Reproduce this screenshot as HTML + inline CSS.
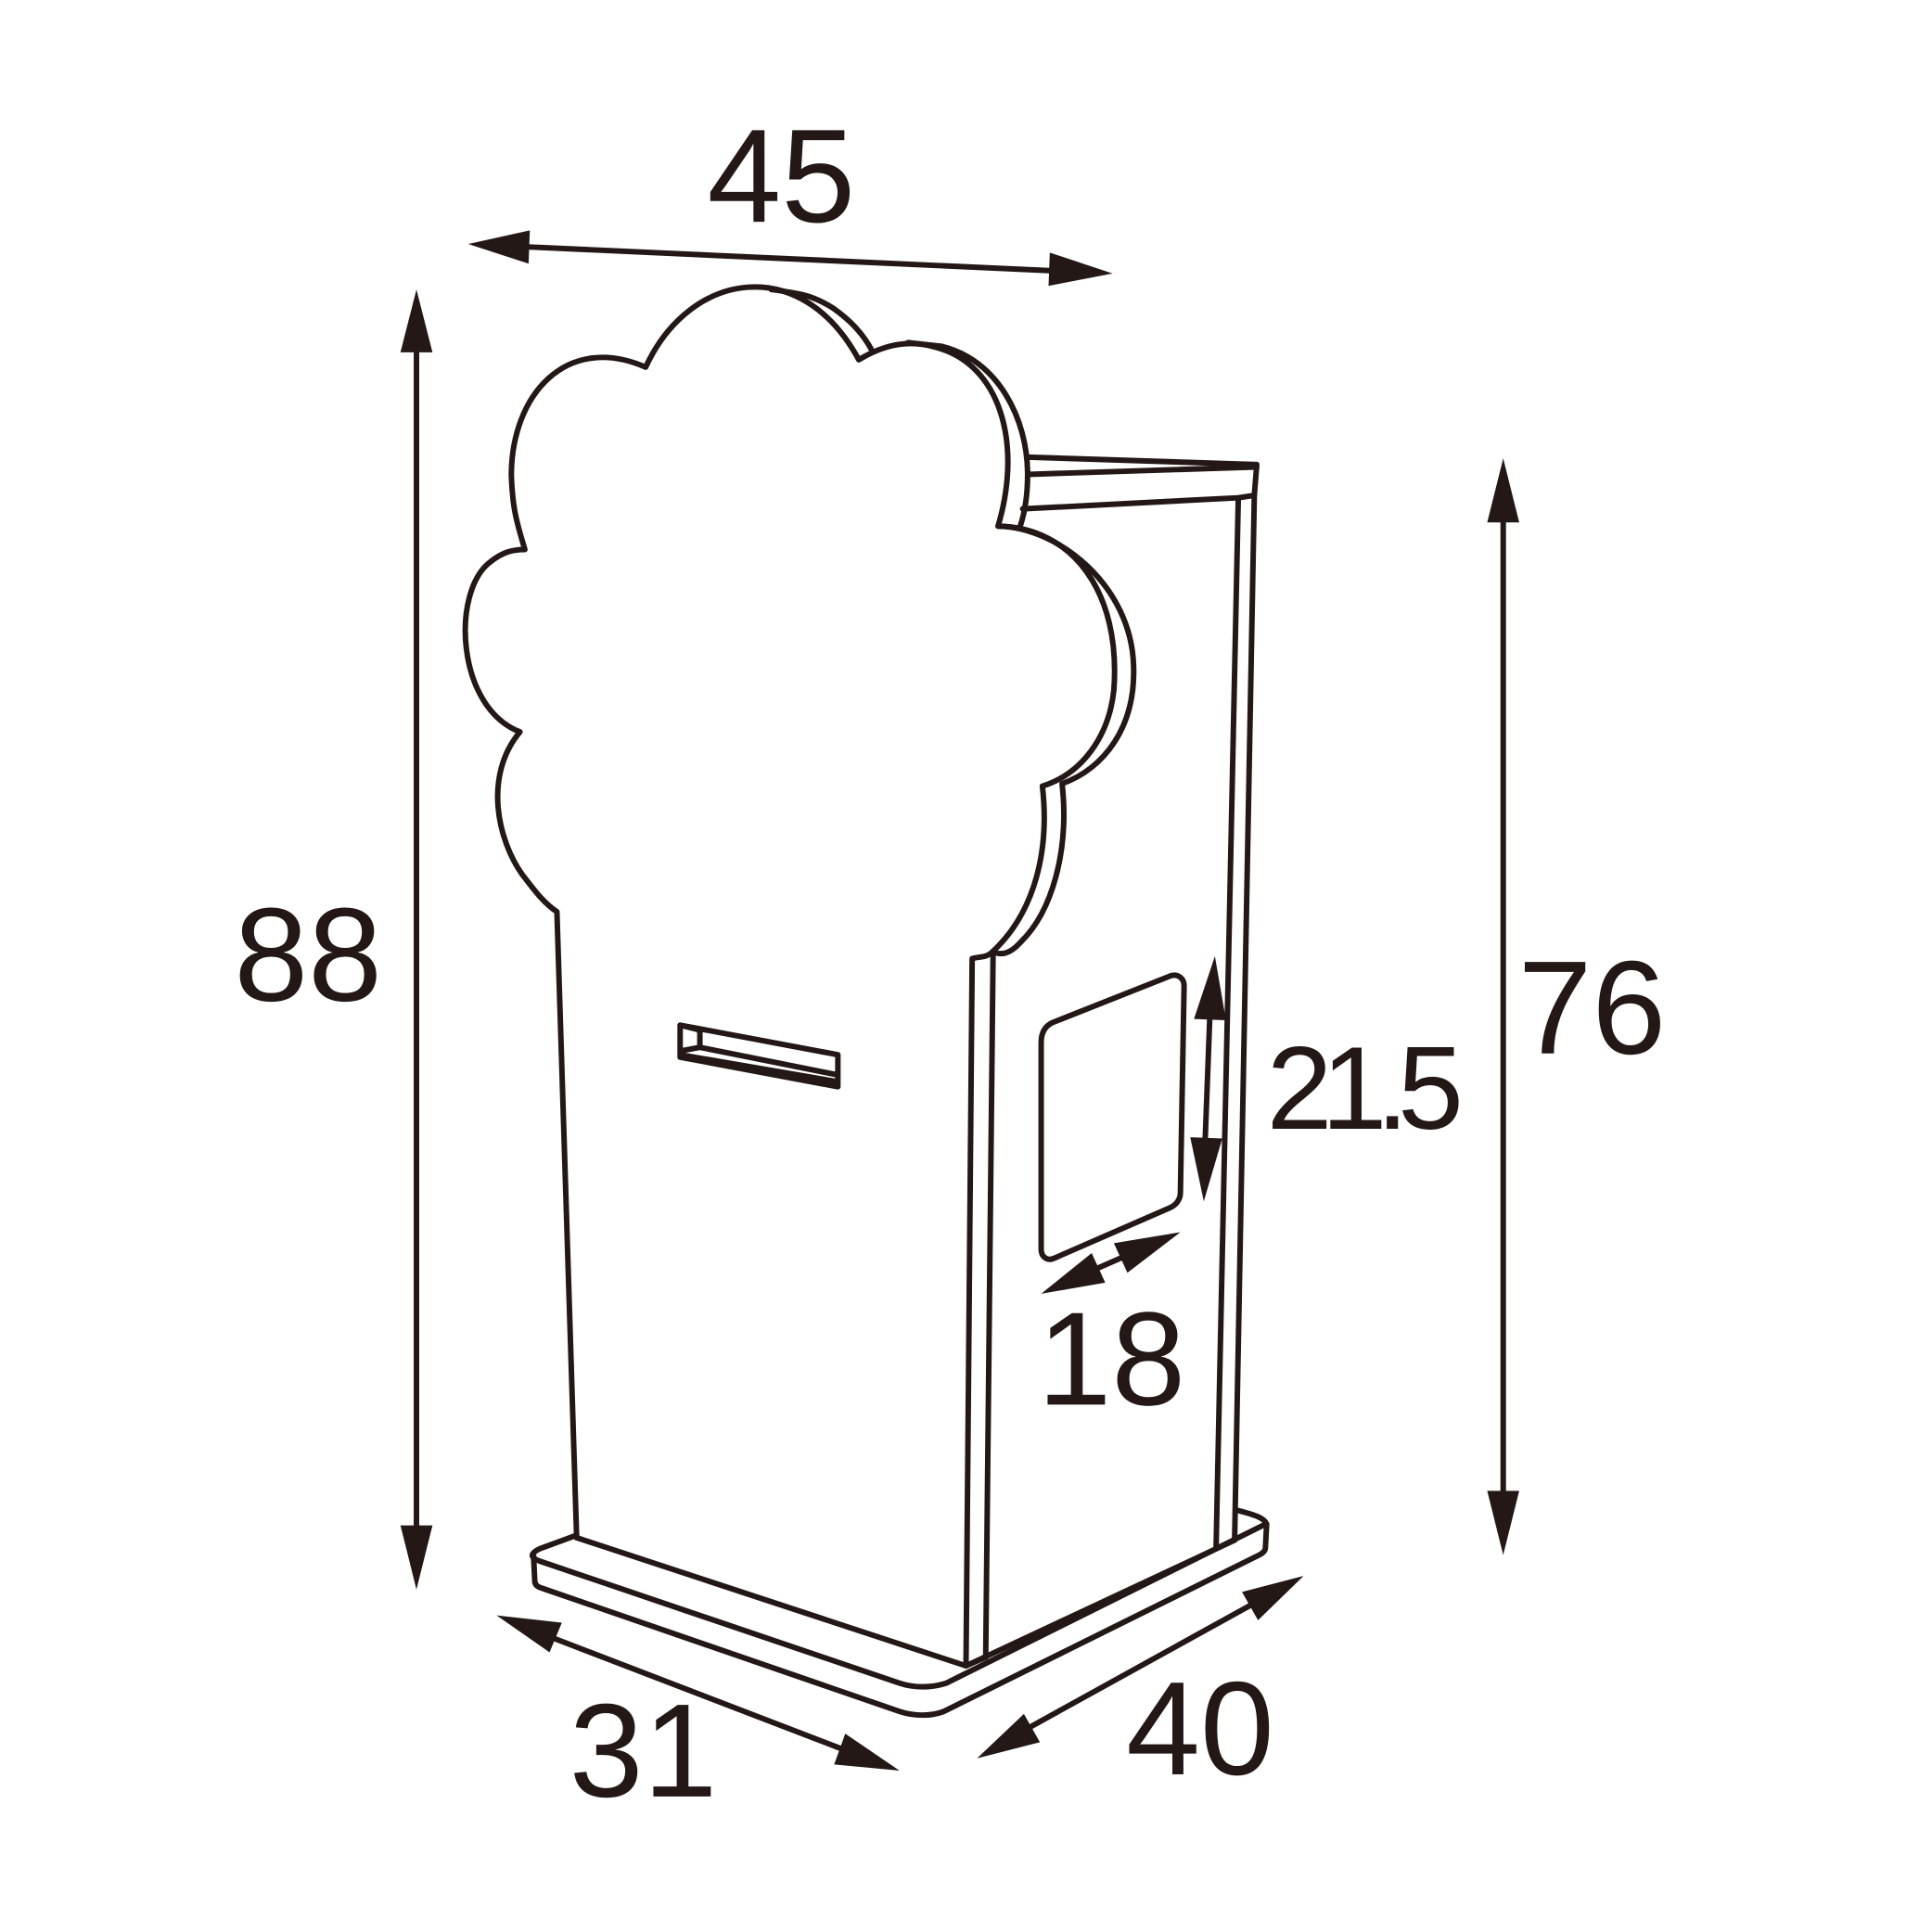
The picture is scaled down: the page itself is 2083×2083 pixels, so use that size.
<!DOCTYPE html>
<html><head><meta charset="utf-8"><style>html,body{margin:0;padding:0;background:#fff}svg{display:block}</style></head>
<body>
<svg width="2083" height="2083" viewBox="0 0 1568 1568" xmlns="http://www.w3.org/2000/svg">
<g fill="none" stroke="#231815" stroke-width="4.5" stroke-linejoin="round" stroke-linecap="round">
<path d="M468,1248 L452,740 C440,732 432,720 424,710 C404,682 392,630 422,594 C370,574 366,480 398,456 C408,448 416,446 426,446 C418,420 416,410 415,386 C415,320 460,270 524,298 C560,220 650,205 697,292 C720,278 740,276 760,282 C812,296 830,360 810,427 C870,428 910,480 904,560 C900,598 878,628 846,638 C852,690 840,740 806,772 C800,778 795,776 789,778 L784,1352"/>
<path d="M626,235 C650,238 660,240 676,250 C690,260 700,270 708,285"/>
<path d="M737,278 L764,281 C810,292 834,340 834,385 C834,400 832,415 828,427"/>
<path d="M810,427 C860,428 918,476 920,540 C922,590 896,624 862,636 C868,690 854,740 828,765 C820,774 812,776 806,772"/>
<path d="M834,371 L1020,377 L1018,402 L1005,404 M834,385 L1020,379 M830,413 L1005,404"/>
<path d="M1018,402 L1002,1250 M1005,404 L987,1255"/>
<path d="M806,772 L800,1345"/>
<path d="M468,1248 L784,1352 L1002,1250"/>
<path d="M468,1246 L438,1257 C430,1261 430,1264 438,1267 L730,1366 C742,1370 756,1370 768,1366 L1025,1238"/>
<path d="M433,1262 L434,1283 C434,1286 436,1288 440,1289 L730,1389 C742,1393 756,1393 766,1389 L1022,1262 C1026,1260 1027,1258 1027,1256 L1028,1237 C1026,1232 1020,1230 1005,1226"/>
<path d="M784,1352 L800,1345"/>
<path d="M854,830 L950,792 C956,790 961,794 961,800 L958,968 C958,974 954,978 950,980 L856,1021 C850,1024 845,1020 845,1014 L845,846 C845,838 848,833 854,830 Z"/>
<path d="M552,832 L680,856 L680,882 L552,858 Z M552,832 L568,836 L568,850 L552,853 M568,850 L678,872 M552,856 L680,878"/>
<path d="M420,200 L860,220"/>
<path d="M338,280 L338,1245"/>
<path d="M1220,420 L1220,1215"/>
<path d="M440,1326 L690,1422"/>
<path d="M830,1405 L1020,1300"/>
<path d="M880,1034 L912,1020"/>
<path d="M982,822 L978,928"/>
</g>
<g fill="#231815" stroke="none">
<polygon points="380,198 430,187 429,214"/>
<polygon points="903,222 851,232 852,205"/>
<polygon points="338,235 325,286 351,286"/>
<polygon points="338,1290 325,1238 351,1238"/>
<polygon points="1220,372 1207,424 1233,424"/>
<polygon points="1220,1262 1207,1210 1233,1210"/>
<polygon points="403,1311 456,1317 446,1341"/>
<polygon points="730,1437 677,1432 686,1407"/>
<polygon points="1058,1279 1021,1315 1008,1292"/>
<polygon points="793,1427 831,1391 844,1414"/>
<polygon points="845,1050 886,1017 897,1041"/>
<polygon points="958,1000 915,1033 904,1009"/>
<polygon points="986,776 969,827 995,828"/>
<polygon points="977,975 966,923 992,924"/>
</g>
<g fill="#231815" font-family="'Liberation Sans', Arial, sans-serif" font-size="108">
<text x="574" y="180">45</text>
<text x="190" y="812">88</text>
<text x="1232" y="855">76</text>
<text x="462" y="1458">31</text>
<text x="914" y="1440">40</text>
<text x="842" y="1140">18</text>
<text x="1028" y="916" font-size="96" letter-spacing="-9">21.5</text>
</g>
</svg>
</body></html>
